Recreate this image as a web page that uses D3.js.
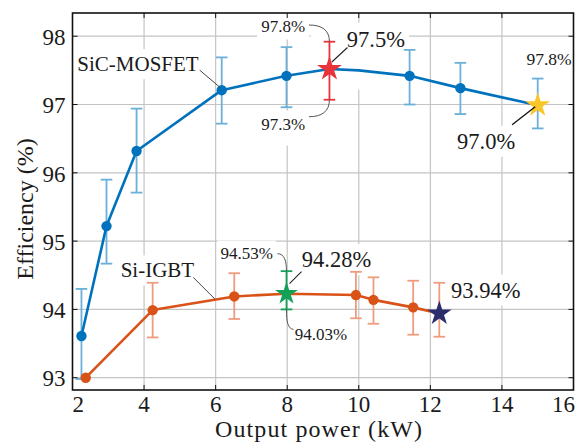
<!DOCTYPE html>
<html><head><meta charset="utf-8">
<script src="https://cdn.jsdelivr.net/npm/d3@7"></script>
<style>
body{margin:0;background:#fff}
svg{display:block}
</style>
</head><body><svg id="c" width="584" height="443"></svg>
<script>
// ---------- data ----------
const xTicks = [2, 4, 6, 8, 10, 12, 14, 16];
const yTicks = [93, 94, 95, 96, 97, 98];

const sicPower = [2.25, 2.95, 3.79, 6.17, 7.98, 9.18, 11.42, 12.84, 15.0];
const sicEff   = [93.61, 95.22, 96.32, 97.21, 97.42, 97.52, 97.42, 97.24, 96.99];
const sicHi    = [94.30, 95.90, 96.94, 97.69, 97.84, 97.92, 97.80, 97.61, 97.38];
const sicLo    = [92.98, 94.67, 95.71, 96.72, 96.96, 97.07, 97.00, 96.86, 96.65];
const sicCurvePower = [2.25, 2.95, 3.79, 6.17, 7.98, 9.18, 10.0, 11.42, 12.84, 15.0];
const sicCurveEff   = [93.61, 95.22, 96.32, 97.21, 97.42, 97.52, 97.50, 97.42, 97.24, 96.99];

const igbtPower = [2.37, 4.24, 6.52, 7.98, 9.92, 10.41, 11.52, 12.25];
const igbtEff   = [93.00, 93.99, 94.19, 94.23, 94.21, 94.14, 94.03, 93.94];
const igbtHi    = [93.00, 94.39, 94.53, 94.56, 94.55, 94.47, 94.42, 94.39];
const igbtLo    = [93.00, 93.59, 93.86, 94.00, 93.87, 93.79, 93.63, 93.60];

const seriesNames = ["SiC-MOSFET", "Si-IGBT"];
const peakLabels = ["97.5%", "97.8%", "97.3%", "97.0%", "97.8%", "94.28%", "94.53%", "94.03%", "93.94%"];

// ---------- setup ----------
const FONT = '"Liberation Serif", serif';
const M = {l: 72.5, r: 573.5, t: 13, b: 390};
const x = d3.scaleLinear().domain([2, 16]).range([M.l, M.r]);
const y = d3.scaleLinear().domain([92.82, 98.34]).range([M.b, M.t]);
const svg = d3.select("#c");

const BLUE = "#0072BD", BLUE_ERR = "#6AB0D8";
const ORANGE = "#D95319", ORANGE_ERR = "#EF9C7E";
const RED = "#E8333A", YELLOW = "#FBC62A", GREEN = "#13A157", NAVY = "#2C2D6C";

const gGrid = svg.append("g");
const gBg = svg.append("g");
const gErr = svg.append("g");
const gLine = svg.append("g");
const gMark = svg.append("g");
const gAnn = svg.append("g");
const gAxis = svg.append("g");

function txt(g, str, px, py, size, anchor) {
  return g.append("text").attr("x", px).attr("y", py)
    .style("font-family", FONT).style("font-size", size + "px").style("fill", "#1a1a1a")
    .attr("text-anchor", anchor || "start").text(str);
}

// grid
gGrid.selectAll("line.v").data(xTicks.slice(1, -1)).join("line")
  .attr("x1", d => x(d)).attr("x2", d => x(d)).attr("y1", M.t).attr("y2", M.b)
  .attr("stroke", "#c4c4c4").attr("stroke-width", 1.2);
gGrid.selectAll("line.h").data(yTicks).join("line")
  .attr("y1", d => y(d)).attr("y2", d => y(d)).attr("x1", M.l).attr("x2", M.r)
  .attr("stroke", "#c4c4c4").attr("stroke-width", 1.2);

// error bars
function errBars(px, lo, hi, colorFn) {
  const cap = 5.8;
  px.forEach((p, i) => {
    if (hi[i] - lo[i] < 0.01) return;
    const g = gErr.append("g").attr("stroke", colorFn(i)).attr("stroke-width", 1.8);
    g.append("line").attr("x1", x(p)).attr("x2", x(p)).attr("y1", y(lo[i])).attr("y2", y(hi[i]));
    g.append("line").attr("x1", x(p) - cap).attr("x2", x(p) + cap).attr("y1", y(lo[i])).attr("y2", y(lo[i]));
    g.append("line").attr("x1", x(p) - cap).attr("x2", x(p) + cap).attr("y1", y(hi[i])).attr("y2", y(hi[i]));
  });
}
errBars(sicPower, sicLo, sicHi, i => i === 5 ? RED : BLUE_ERR);
errBars(igbtPower, igbtLo, igbtHi, i => i === 3 ? GREEN : ORANGE_ERR);

// lines
const line = d3.line().x(d => x(d[0])).y(d => y(d[1]));
gLine.append("path").attr("d", line(sicCurvePower.map((p, i) => [p, sicCurveEff[i]])))
  .attr("fill", "none").attr("stroke", BLUE).attr("stroke-width", 2.6).attr("stroke-linejoin", "round");
gLine.append("path").attr("d", line(igbtPower.map((p, i) => [p, igbtEff[i]])))
  .attr("fill", "none").attr("stroke", ORANGE).attr("stroke-width", 2.6).attr("stroke-linejoin", "round");

// markers
const sicStar = {5: RED, 8: YELLOW};
const igbtStar = {3: GREEN, 7: NAVY};
function markers(px, py, color, stars, starR) {
  px.forEach((p, i) => {
    if (stars[i]) {
      const R = starR[i] || 13;
      gMark.append("path").attr("d", d3.symbol(d3.symbolStar, R * R / 0.8908130915292852)())
        .attr("transform", `translate(${x(p)},${y(py[i])})`).attr("fill", stars[i]);
    } else {
      gMark.append("circle").attr("cx", x(p)).attr("cy", y(py[i])).attr("r", 5.2).attr("fill", color);
    }
  });
}
markers(sicPower, sicEff, BLUE, sicStar, {5: 13, 8: 13});
markers(igbtPower, igbtEff, ORANGE, igbtStar, {3: 12, 7: 13});

// ---------- annotations ----------
const texts = [];
function label(str, px, py, size, anchor, pad) {
  const t = txt(gAnn, str, px, py, size, anchor);
  texts.push({t, pad: pad || [3, 3, 3, 3]});
  return t;
}
function leader(d, color, w) {
  gAnn.append("path").attr("d", d).attr("fill", "none").attr("stroke", color).attr("stroke-width", w);
}

// series labels
const sA = [x(sicPower[3]), y(sicEff[3])];
label(seriesNames[0], sA[0] - 144.4, sA[1] - 19, 21, "start", [3, 3, 3, 3]);
leader(`M${sA[0] - 22},${sA[1] - 20}L${sA[0] - 2},${sA[1] - 3}`, "#444", 1);

const iA = [x(igbtPower[1]), y(igbtEff[1])];
label(seriesNames[1], iA[0] - 32, iA[1] - 32.7, 21, "start", [3, 3, 3, 3]);
leader(`M${iA[0] + 40.6},${iA[1] - 32.7}L${iA[0] + 62.3},${iA[1] - 11}`, "#444", 1);

// red star (SiC peak)
const r0 = [x(sicPower[5]), y(sicEff[5])];
const rHi = y(sicHi[5]), rLo = y(sicLo[5]);
label(peakLabels[0], r0[0] + 17.4, r0[1] - 22.5, 22.5, "start", [36, 4, 4, 38]);
leader(`M${r0[0] + 2.4},${r0[1] - 7}L${r0[0] + 18},${r0[1] - 21.5}`, "#222", 1.1);
label(peakLabels[1], r0[0] - 24.3, r0[1] - 37.5, 17, "end", [4, 4, 4, 4]);
leader(`M${r0[0] - 20.5},${r0[1] - 44}C${r0[0] - 8},${r0[1] - 44} ${r0[0]},${rHi - 12} ${r0[0]},${rHi}`, "#555", 1);
label(peakLabels[2], r0[0] - 24.3, r0[1] + 60.5, 17, "end", [4, 8, 4, 12]);
leader(`M${r0[0]},${rLo}C${r0[0]},${rLo + 12} ${r0[0] - 8},${rLo + 17} ${r0[0] - 20.5},${rLo + 17}`, "#555", 1);

// yellow star (SiC at 15 kW)
const y0 = [x(sicPower[8]), y(sicEff[8])];
label(peakLabels[3], y0[0] - 80.6, y0[1] + 43.5, 22.5, "start", [3, 3, 3, 3]);
leader(`M${y0[0] - 25.6},${y0[1] + 19.5}L${y0[0] - 2.5},${y0[1] + 1.5}`, "#111", 1.3);
label(peakLabels[4], y0[0] - 11.3, y(sicHi[8]) - 14, 17.5, "start", [2, 2, 2, 2]);

// green star (IGBT peak)
const g0 = [x(igbtPower[3]), y(igbtEff[3])];
const gHi = y(igbtHi[3]), gLo = y(igbtLo[3]);
label(peakLabels[5], g0[0] + 15.3, g0[1] - 26.5, 22.5, "start", [3, 3, 3, 3]);
leader(`M${g0[0] + 3},${g0[1] - 10}L${g0[0] + 15},${g0[1] - 22}`, "#222", 1.1);
label(peakLabels[6], g0[0] - 13.7, g0[1] - 35, 17, "end", [3, 3, 3, 3]);
leader(`M${g0[0] - 9},${g0[1] - 40}C${g0[0] - 2},${g0[1] - 40} ${g0[0]},${gHi - 10} ${g0[0]},${gHi}`, "#555", 1);
label(peakLabels[7], g0[0] + 8.3, g0[1] + 46, 17, "start", [3, 3, 3, 3]);
leader(`M${g0[0]},${gLo}C${g0[0]},${gLo + 12} ${g0[0] + 1},${gLo + 19} ${g0[0] + 7},${gLo + 20}`, "#555", 1);

// navy star
const n0 = [x(igbtPower[7]), y(igbtEff[7])];
label(peakLabels[8], n0[0] + 11.7, n0[1] - 16, 22.5, "start", [3, 3, 3, 3]);

// white backgrounds behind labels
texts.forEach(({t, pad}) => {
  const b = t.node().getBBox();
  gBg.append("rect").attr("x", b.x - pad[0]).attr("y", b.y - pad[2])
    .attr("width", b.width + pad[0] + pad[1]).attr("height", b.height + pad[2] + pad[3])
    .attr("fill", "#fff");
});

// ---------- axes ----------
gAxis.append("rect").attr("x", M.l).attr("y", M.t).attr("width", M.r - M.l).attr("height", M.b - M.t)
  .attr("fill", "none").attr("stroke", "#111").attr("stroke-width", 1.6);
const tk = 5;
xTicks.slice(1, -1).forEach(v => {
  gAxis.append("line").attr("x1", x(v)).attr("x2", x(v)).attr("y1", M.b).attr("y2", M.b - tk).attr("stroke", "#111");
  gAxis.append("line").attr("x1", x(v)).attr("x2", x(v)).attr("y1", M.t).attr("y2", M.t + tk).attr("stroke", "#111");
});
yTicks.forEach(v => {
  gAxis.append("line").attr("y1", y(v)).attr("y2", y(v)).attr("x1", M.l).attr("x2", M.l + tk).attr("stroke", "#111");
  gAxis.append("line").attr("y1", y(v)).attr("y2", y(v)).attr("x1", M.r).attr("x2", M.r - tk).attr("stroke", "#111");
});
xTicks.forEach((v, i) => {
  const last = i === xTicks.length - 1, first = i === 0;
  txt(gAxis, String(v), first ? x(v) : last ? x(v) + 1.5 : x(v), 412, 23,
      first ? "start" : last ? "end" : "middle");
});
yTicks.forEach(v => {
  txt(gAxis, String(v), 65.5, y(v) + 8.7, 23, "end");
});
txt(gAxis, "Output power (kW)", 318.5, 437, 24, "middle")
  .attr("textLength", 207).attr("lengthAdjust", "spacing");
txt(gAxis, "Efficiency (%)", 0, 0, 24, "middle").attr("transform", "translate(33,209) rotate(-90)");
</script>
</body></html>
